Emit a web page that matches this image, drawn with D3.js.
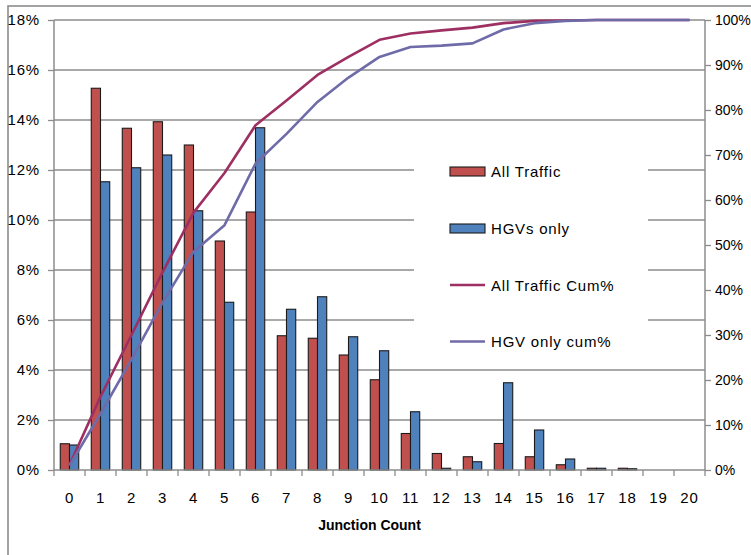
<!DOCTYPE html>
<html>
<head>
<meta charset="utf-8">
<script src="https://cdn.jsdelivr.net/npm/d3@7"></script>
<style>
  html, body { margin: 0; padding: 0; background: #fff; }
  svg { display: block; }
  text { font-family: "Liberation Sans", Arial, sans-serif; fill: #000; }
</style>
</head>
<body>
<svg id="chart" width="751" height="555"></svg>
<script>
// Junction counts along the x axis
const categories = ["0","1","2","3","4","5","6","7","8","9","10","11","12","13","14","15","16","17","18","19","20"];

// Share of journeys per junction count (%)
const allTraffic = [1.05, 15.27, 13.67, 13.93, 13.0, 9.16, 10.32, 5.37, 5.27, 4.6, 3.61, 1.46, 0.66, 0.53, 1.06, 0.53, 0.21, 0.07, 0.07, 0, 0];
const hgvOnly    = [1.0, 11.53, 12.09, 12.6, 10.37, 6.71, 13.69, 6.43, 6.93, 5.33, 4.77, 2.33, 0.07, 0.33, 3.49, 1.6, 0.44, 0.07, 0.05, 0, 0];

// Cumulative shares (%), right axis
const allTrafficCum = [1.1, 16.3, 30.0, 43.9, 57.2, 66.0, 76.6, 82.1, 87.8, 91.8, 95.6, 97.0, 97.7, 98.3, 99.3, 99.8, 99.9, 100, 100, 100, 100];
const hgvOnlyCum    = [1.0, 12.5, 24.6, 37.2, 48.5, 54.4, 68.1, 74.7, 81.8, 87.2, 91.8, 94.0, 94.3, 94.8, 97.9, 99.3, 99.8, 100, 100, 100, 100];

const leftTicks  = [0, 2, 4, 6, 8, 10, 12, 14, 16, 18];
const rightTicks = [0, 10, 20, 30, 40, 50, 60, 70, 80, 90, 100];

const seriesNames = ["All Traffic", "HGVs only", "All Traffic Cum%", "HGV only cum%"];
const colors = { all: "#C0504D", hgv: "#4F81BD", allCum: "#9E2F62", hgvCum: "#6F6BA8" };

const svg = d3.select("#chart");
const plot = { left: 54, right: 705, top: 20, bottom: 470 };

// Outer chart frame
svg.append("rect")
  .attr("x", 8).attr("y", 6).attr("width", 780).attr("height", 600)
  .attr("fill", "none").attr("stroke", "#8c8c8c").attr("stroke-width", 1.6);

const x0 = d3.scaleBand().domain(categories).range([plot.left, plot.right]).paddingInner(0).paddingOuter(0);
const x1 = d3.scaleBand().domain(["all", "hgv"]).range([0, x0.bandwidth()]).paddingInner(0).paddingOuter(0.68);
const yL = d3.scaleLinear().domain([0, 18]).range([plot.bottom, plot.top]);
const yR = d3.scaleLinear().domain([0, 100]).range([plot.bottom, plot.top]);

// Horizontal gridlines
const grid = svg.append("g");
grid.selectAll("line").data(leftTicks.filter(d => d > 0)).join("line")
  .attr("x1", plot.left).attr("x2", plot.right)
  .attr("y1", d => yL(d)).attr("y2", d => yL(d))
  .attr("stroke", "#8c8c8c").attr("stroke-width", 1.3);

// Bars
const bars = svg.append("g");
const barData = [];
categories.forEach((c, i) => {
  barData.push({ c, key: "all", v: allTraffic[i] });
  barData.push({ c, key: "hgv", v: hgvOnly[i] });
});
bars.selectAll("rect").data(barData.filter(d => d.v > 0)).join("rect")
  .attr("x", d => x0(d.c) + x1(d.key))
  .attr("width", x1.bandwidth())
  .attr("y", d => yL(d.v))
  .attr("height", d => yL(0) - yL(d.v))
  .attr("fill", d => colors[d.key])
  .attr("stroke", "#1b1b1b").attr("stroke-width", 1.1);

// Cumulative lines on the right axis
const line = d3.line()
  .x((d, i) => x0(categories[i]) + x0.bandwidth() / 2)
  .y(d => yR(d));
svg.append("path").datum(allTrafficCum).attr("d", line)
  .attr("fill", "none").attr("stroke", colors.allCum).attr("stroke-width", 2.6).attr("stroke-linejoin", "round");
svg.append("path").datum(hgvOnlyCum).attr("d", line)
  .attr("fill", "none").attr("stroke", colors.hgvCum).attr("stroke-width", 2.6).attr("stroke-linejoin", "round");

// Axes
const axisColor = "#8c8c8c";
const leftAxis = svg.append("g").attr("transform", `translate(${plot.left},0)`)
  .call(d3.axisLeft(yL).tickValues(leftTicks).tickSize(6).tickPadding(8).tickFormat(d => d + "%"));
const rightAxis = svg.append("g").attr("transform", `translate(${plot.right},0)`)
  .call(d3.axisRight(yR).tickValues(rightTicks).tickSize(6).tickPadding(4).tickFormat(d => d + "%"));
const bottomAxis = svg.append("g").attr("transform", `translate(0,${plot.bottom})`)
  .call(d3.axisBottom(x0).tickSize(0).tickPadding(22));

// Tick marks at category boundaries
const bounds = categories.map(c => x0(c)).concat([plot.right]);
bottomAxis.selectAll("line.bound").data(bounds).join("line")
  .attr("class", "bound")
  .attr("x1", d => d).attr("x2", d => d).attr("y1", 0).attr("y2", 6)
  .attr("stroke", axisColor).attr("stroke-width", 1.3);

[leftAxis, rightAxis, bottomAxis].forEach(g => {
  g.select(".domain").attr("stroke", axisColor).attr("stroke-width", 1.5);
  g.selectAll(".tick line").attr("stroke", axisColor).attr("stroke-width", 1.3);
  g.selectAll(".tick text")
    .attr("font-family", "Liberation Sans, Arial, sans-serif")
    .attr("font-size", 15).attr("letter-spacing", 0.8).attr("fill", "#000");
});
// Right-hand labels are set a touch tighter so "100%" stays inside the frame
rightAxis.selectAll(".tick text").attr("font-size", 14).attr("letter-spacing", 0);
leftAxis.select(".domain").attr("d", `M0,${plot.top}V${plot.bottom}`);
rightAxis.select(".domain").attr("d", `M0,${plot.top}V${plot.bottom}`);
bottomAxis.select(".domain").attr("d", `M${plot.left},0H${plot.right}`);

// Axis title
svg.append("text")
  .attr("x", 369.5).attr("y", 530)
  .attr("text-anchor", "middle")
  .attr("font-size", 14).attr("font-weight", "bold")
  .text("Junction Count");

// Legend (white panel sits over gridlines)
const legend = svg.append("g");
legend.append("rect")
  .attr("x", 414).attr("y", 144).attr("width", 234).attr("height", 220)
  .attr("fill", "#fff");
const legendY = [171.5, 228.5, 285, 341.5];
seriesNames.forEach((name, i) => {
  const y = legendY[i];
  if (i < 2) {
    legend.append("rect")
      .attr("x", 450).attr("y", y - 4.5).attr("width", 35).attr("height", 9)
      .attr("fill", i === 0 ? colors.all : colors.hgv)
      .attr("stroke", "#1b1b1b").attr("stroke-width", 1.1);
  } else {
    legend.append("line")
      .attr("x1", 450).attr("x2", 485).attr("y1", y).attr("y2", y)
      .attr("stroke", i === 2 ? colors.allCum : colors.hgvCum).attr("stroke-width", 2.6);
  }
  legend.append("text")
    .attr("x", 491).attr("y", y + 5.5)
    .attr("font-size", 15).attr("letter-spacing", 0.8)
    .text(name);
});
</script>
</body>
</html>
